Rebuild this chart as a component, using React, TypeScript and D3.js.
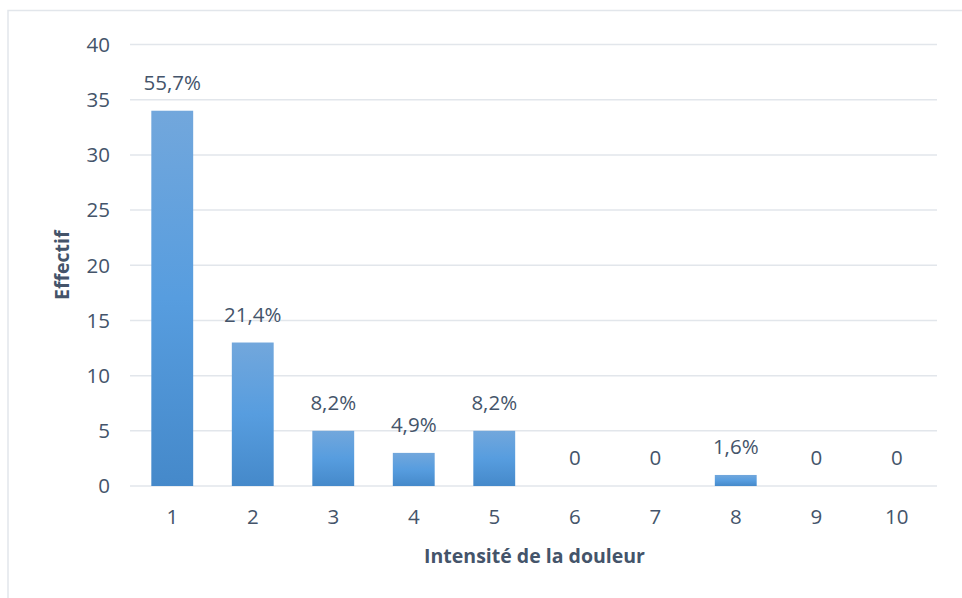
import * as d3 from "d3";
import React from "react";

const categories = ["1", "2", "3", "4", "5", "6", "7", "8", "9", "10"];
const counts = [34, 13, 5, 3, 5, 0, 0, 1, 0, 0];
const labels = ["55,7%", "21,4%", "8,2%", "4,9%", "8,2%", "0", "0", "1,6%", "0", "0"];
const yTicks = [0, 5, 10, 15, 20, 25, 30, 35, 40];

const W = 962;
const H = 598;
const margin = { top: 44.5, right: 25, bottom: 112, left: 132 };
const textColor = "#44546A";
const gridColor = "#E2E6EB";
const font = "'Open Sans', sans-serif";
const tickSize = 20.5;
const titleSize = 19.5;

export default function App() {
  const x = d3
    .scaleBand()
    .domain(categories)
    .range([margin.left, W - margin.right])
    .paddingInner(0.48)
    .paddingOuter(0.24);

  const y = d3
    .scaleLinear()
    .domain([0, 40])
    .range([H - margin.bottom, margin.top]);

  const plotMid = (y(0) + y(40)) / 2;
  const xMid = (margin.left + W - margin.right) / 2;

  return (
    <svg
      width={W}
      height={H}
      style={{ position: "absolute", left: 0, top: 0, background: "#fff" }}
    >
      <defs>
        <linearGradient id="barGrad" x1="0" y1="0" x2="0" y2="1">
          <stop offset="0%" stopColor="#72A7DC" />
          <stop offset="50%" stopColor="#579DDF" />
          <stop offset="100%" stopColor="#4589CA" />
        </linearGradient>
      </defs>

      {/* chart border */}
      <rect
        x={8}
        y={10.5}
        width={W + 10}
        height={H + 10}
        fill="none"
        stroke={gridColor}
        strokeWidth={1.5}
      />

      {/* gridlines */}
      {yTicks.map((t) => (
        <line
          key={t}
          x1={margin.left - 2}
          x2={W - margin.right}
          y1={y(t)}
          y2={y(t)}
          stroke={gridColor}
          strokeWidth={1.5}
        />
      ))}

      {/* y tick labels */}
      {yTicks.map((t) => (
        <text
          key={"yt" + t}
          x={110}
          y={y(t)}
          dy="0.36em"
          textAnchor="end"
          fontFamily={font}
          fontSize={tickSize}
          fill={textColor}
        >
          {t}
        </text>
      ))}

      {/* bars */}
      {categories.map((c, i) =>
        counts[i] > 0 ? (
          <rect
            key={"b" + c}
            x={x(c)}
            y={y(counts[i])}
            width={x.bandwidth()}
            height={y(0) - y(counts[i])}
            fill="url(#barGrad)"
          />
        ) : null
      )}

      {/* data labels */}
      {categories.map((c, i) => (
        <text
          key={"l" + c}
          x={(x(c) || 0) + x.bandwidth() / 2}
          y={y(counts[i]) - 21}
          textAnchor="middle"
          fontFamily={font}
          fontSize={tickSize}
          fill={textColor}
        >
          {labels[i]}
        </text>
      ))}

      {/* x tick labels */}
      {categories.map((c) => (
        <text
          key={"xt" + c}
          x={(x(c) || 0) + x.bandwidth() / 2}
          y={524}
          textAnchor="middle"
          fontFamily={font}
          fontSize={tickSize}
          fill={textColor}
        >
          {c}
        </text>
      ))}

      {/* axis titles */}
      <text
        x={xMid}
        y={563}
        textAnchor="middle"
        fontFamily={font}
        fontSize={titleSize}
        fontWeight="bold"
        fill={textColor}
      >
        Intensité de la douleur
      </text>
      <text
        transform={`translate(69,${plotMid}) rotate(-90)`}
        textAnchor="middle"
        fontFamily={font}
        fontSize={titleSize}
        fontWeight="bold"
        fill={textColor}
      >
        Effectif
      </text>
    </svg>
  );
}
